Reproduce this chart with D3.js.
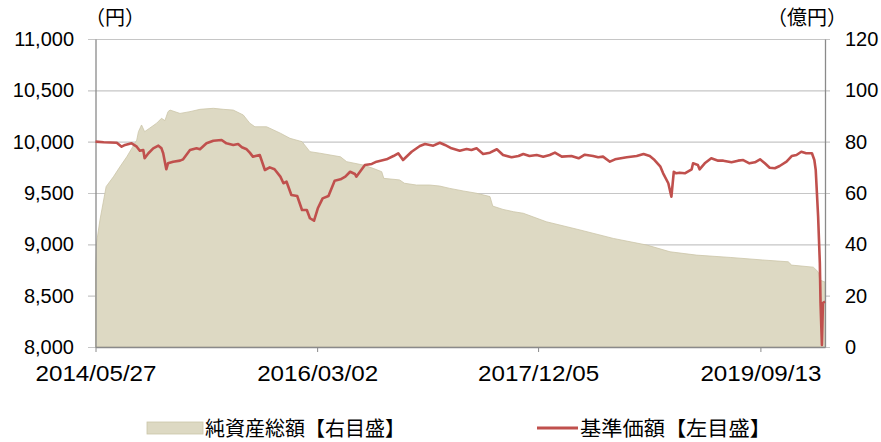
<!DOCTYPE html>
<html><head><meta charset="utf-8">
<script src="https://cdn.jsdelivr.net/npm/d3@7"></script>
<style>body{margin:0;background:#fff;overflow:hidden}</style>
</head><body>
<svg id="c" width="881" height="442"></svg>
<script>
const navDates = ["2014-05-27","2014-06-20","2014-07-28","2014-08-11","2014-08-21","2014-09-09","2014-09-24","2014-10-03","2014-10-13","2014-10-17","2014-10-28","2014-11-11","2014-11-26","2014-12-05","2014-12-10","2014-12-19","2014-12-24","2015-01-08","2015-01-28","2015-02-06","2015-02-26","2015-03-17","2015-03-27","2015-04-15","2015-05-05","2015-05-29","2015-06-12","2015-07-02","2015-07-16","2015-07-27","2015-08-10","2015-08-19","2015-08-28","2015-09-17","2015-10-02","2015-10-16","2015-10-30","2015-11-16","2015-11-25","2015-12-04","2015-12-18","2016-01-04","2016-01-18","2016-02-01","2016-02-10","2016-02-22","2016-03-04","2016-03-18","2016-04-04","2016-04-22","2016-05-09","2016-05-23","2016-06-06","2016-06-20","2016-06-24","2016-07-19","2016-08-08","2016-08-22","2016-09-20","2016-10-10","2016-10-24","2016-11-07","2016-12-02","2016-12-26","2017-01-10","2017-02-03","2017-02-22","2017-03-09","2017-03-28","2017-04-21","2017-05-11","2017-05-25","2017-06-09","2017-06-28","2017-07-18","2017-08-07","2017-08-25","2017-09-19","2017-10-09","2017-10-23","2017-11-10","2017-12-01","2017-12-20","2018-01-08","2018-01-23","2018-02-12","2018-03-12","2018-04-02","2018-04-20","2018-05-14","2018-05-29","2018-06-12","2018-07-02","2018-07-17","2018-08-20","2018-09-18","2018-10-08","2018-10-26","2018-11-09","2018-11-26","2018-12-04","2018-12-19","2018-12-28","2019-01-04","2019-01-11","2019-01-21","2019-02-05","2019-02-25","2019-03-01","2019-03-15","2019-03-20","2019-04-04","2019-04-23","2019-05-13","2019-05-28","2019-06-21","2019-07-10","2019-07-25","2019-08-12","2019-08-28","2019-09-12","2019-09-26","2019-10-10","2019-10-25","2019-11-08","2019-11-28","2019-12-13","2019-12-27","2020-01-10","2020-01-24","2020-02-10","2020-02-17","2020-02-21","2020-02-24","2020-02-28","2020-03-04","2020-03-06","2020-03-10","2020-03-13","2020-03-19"];
const navValues = [10000,9995,9990,9951,9968,9984,9951,9912,9919,9838,9887,9935,9961,9935,9887,9731,9789,9805,9815,9828,9919,9935,9926,9984,10009,10016,9984,9968,9977,9945,9926,9893,9854,9870,9724,9750,9731,9659,9595,9610,9481,9471,9334,9334,9254,9230,9351,9448,9471,9620,9633,9659,9707,9685,9659,9773,9783,9805,9828,9860,9887,9821,9902,9958,9977,9961,9990,9968,9935,9912,9929,9919,9935,9880,9893,9926,9870,9848,9860,9880,9860,9870,9854,9870,9893,9854,9860,9838,9873,9860,9848,9854,9805,9828,9848,9860,9880,9860,9821,9756,9692,9595,9464,9707,9692,9698,9692,9731,9789,9773,9731,9789,9838,9815,9815,9799,9815,9821,9789,9799,9828,9789,9746,9741,9763,9805,9860,9870,9902,9887,9887,9821,9724,9529,9269,8815,8429,8020,8430,8441];

const assetDates = ["2014-05-27","2014-05-30","2014-06-09","2014-06-27","2014-07-18","2014-08-06","2014-08-26","2014-09-24","2014-09-29","2014-10-08","2014-10-17","2014-10-31","2014-11-21","2014-12-05","2014-12-15","2014-12-24","2014-12-30","2015-01-28","2015-02-26","2015-03-27","2015-05-05","2015-06-03","2015-07-02","2015-07-31","2015-08-19","2015-09-03","2015-10-07","2015-11-16","2015-12-14","2016-01-18","2016-02-10","2016-03-10","2016-05-09","2016-05-27","2016-07-14","2016-08-12","2016-09-06","2016-09-12","2016-10-28","2016-11-11","2016-12-16","2017-01-24","2017-02-22","2017-03-23","2017-05-01","2017-06-09","2017-07-18","2017-07-26","2017-08-25","2017-09-25","2017-10-23","2017-12-29","2018-04-06","2018-07-12","2018-10-18","2018-12-24","2019-03-11","2019-06-17","2019-09-20","2019-12-03","2019-12-13","2020-02-14","2020-02-28","2020-03-04","2020-03-19"];
const assetValues = [30.0,40.5,49.5,62.5,66.3,70.2,74.1,80.6,83.9,86.5,83.9,85.2,87.2,89.1,88.2,91.7,92.3,91.0,91.7,92.6,93.0,92.6,92.3,90.4,87.2,85.8,85.8,83.3,81.3,80.0,76.1,75.5,74.1,72.2,70.9,69.6,68.3,65.7,65.1,63.8,63.1,63.1,62.7,61.8,60.8,59.9,58.6,54.9,53.6,52.7,52.1,48.8,45.6,42.3,39.7,37.1,35.8,34.9,33.9,33.2,31.9,31.1,29.3,26.1,25.3];

const leftTicks = [8000,8500,9000,9500,10000,10500,11000];
const rightTicks = [0,20,40,60,80,100,120];
const xTickDates = ["2014-05-27","2016-03-02","2017-12-05","2019-09-13"];
const xTickLabels = ["2014/05/27","2016/03/02","2017/12/05","2019/09/13"];
const leftUnit = "（円）";
const rightUnit = "（億円）";
const legendLabels = ["純資産総額【右目盛】","基準価額【左目盛】"];

const parse = d3.timeParse("%Y-%m-%d");
const nav = navDates.map((d,i)=>({date:parse(d), v:navValues[i]}));
const assets = assetDates.map((d,i)=>({date:parse(d), v:assetValues[i]}));

const svg = d3.select("#c");
const L = 95.5, R = 825, T = 39, B = 347;
const x = d3.scaleTime().domain([parse("2014-05-27"), parse("2020-03-19")]).range([L, R]);
const yL = d3.scaleLinear().domain([8000,11000]).range([B,T]);
const yR = d3.scaleLinear().domain([0,120]).range([B,T]);

const gridColor = "#c6c6c6", axisColor = "#8a8a8a";

// gridlines
const grid = svg.append("g").attr("transform",`translate(88,0)`)
  .call(d3.axisLeft(yL).tickValues(leftTicks).tickSize(-742).tickFormat(""));
grid.select(".domain").remove();
grid.selectAll("line").attr("stroke",gridColor).attr("stroke-width",1.2);

// area
svg.append("path").datum(assets)
  .attr("d", d3.area().x(d=>x(d.date)).y0(yR(0)).y1(d=>yR(d.v)))
  .attr("fill","#ddd9c3").attr("stroke","#cbc5a8").attr("stroke-width",0.8);

// axis lines
const la = svg.append("g").attr("transform",`translate(${L},0)`).call(d3.axisLeft(yL).tickValues([]).tickSizeOuter(0));
const ra = svg.append("g").attr("transform",`translate(${R},0)`).call(d3.axisRight(yR).tickValues([]).tickSizeOuter(0));
[la,ra].forEach(g=>g.select(".domain").attr("stroke",axisColor).attr("stroke-width",1.3));

// x axis
const xa = svg.append("g").attr("transform",`translate(0,${B})`)
  .call(d3.axisBottom(x).tickValues(xTickDates.map(parse)).tickSize(5).tickSizeOuter(0).tickPadding(13)
    .tickFormat((d,i)=>xTickLabels[i]));
xa.select(".domain").attr("stroke",axisColor).attr("stroke-width",1.3);
xa.selectAll("line").attr("stroke",axisColor);
xa.selectAll("text").attr("fill","#000").style("font-family","'Liberation Sans Narrow','Liberation Sans',Arial,sans-serif")
  .style("font-size","22px").attr("textLength",121).attr("lengthAdjust","spacingAndGlyphs");

// line
svg.append("path").datum(nav)
  .attr("d", d3.line().x(d=>x(d.date)).y(d=>yL(d.v)))
  .attr("fill","none").attr("stroke","#c0504d").attr("stroke-width",2.6).attr("stroke-linejoin","round");

// y labels
const ly = svg.append("g").attr("transform",`translate(74,0)`)
  .call(d3.axisLeft(yL).tickValues(leftTicks).tickSize(0).tickPadding(0).tickFormat(d3.format(",")));
ly.select(".domain").remove();
ly.selectAll("text").attr("fill","#000").style("font-family","'Liberation Sans',Arial,sans-serif").style("font-size","20px");
const ry = svg.append("g").attr("transform",`translate(845,0)`)
  .call(d3.axisRight(yR).tickValues(rightTicks).tickSize(0).tickPadding(0));
ry.select(".domain").remove();
ry.selectAll("text").attr("fill","#000").style("font-family","'Liberation Sans',Arial,sans-serif").style("font-size","20px");

// unit labels
const cjk = "'Noto Sans CJK JP','Noto Sans',sans-serif";
svg.append("text").attr("x",85).attr("y",25).text(leftUnit)
  .style("font-family",cjk).style("font-size","20px");
svg.append("text").attr("x",767).attr("y",25).text(rightUnit)
  .style("font-family",cjk).style("font-size","20px");

// legend
svg.append("rect").attr("x",147).attr("y",422).attr("width",56).attr("height",12)
  .attr("fill","#ddd9c3").attr("stroke","#cbc5a8").attr("stroke-width",0.8);
svg.append("text").attr("x",205).attr("y",436).text(legendLabels[0])
  .style("font-family",cjk).style("font-size","20px").attr("textLength",200).attr("lengthAdjust","spacingAndGlyphs");
svg.append("line").attr("x1",537).attr("x2",578).attr("y1",428).attr("y2",428)
  .attr("stroke","#c0504d").attr("stroke-width",3);
svg.append("text").attr("x",580).attr("y",436).text(legendLabels[1])
  .style("font-family",cjk).style("font-size","20px").attr("textLength",191).attr("lengthAdjust","spacingAndGlyphs");
</script>
</body></html>
